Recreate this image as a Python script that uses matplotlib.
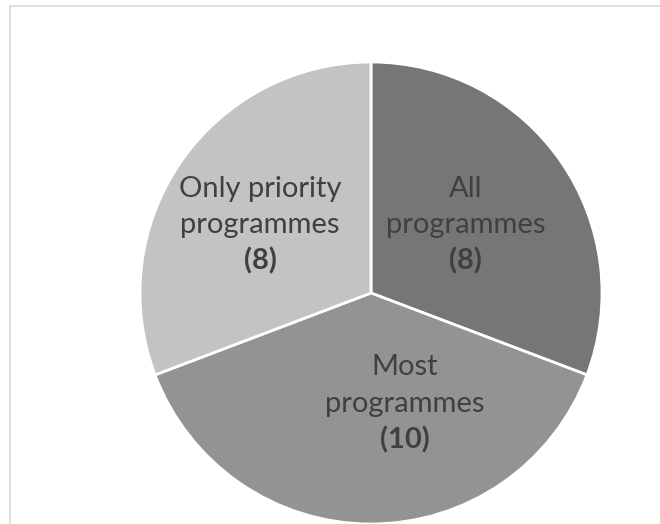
import matplotlib.pyplot as plt
from matplotlib.patches import Rectangle

# data
categories = [['All', 'programmes'], ['Most', 'programmes'], ['Only priority', 'programmes']]
counts = [8, 10, 8]
colors = ['#767676', '#939393', '#c3c3c3']

# baseline of the first label line (pie units)
label_pos = [(0.41, 0.416), (0.147, -0.355), (-0.48, 0.416)]
line_step = 0.158

plt.rcParams['font.family'] = ['Lato', 'DejaVu Sans']

fig = plt.figure(figsize=(6.6, 5.24), dpi=100)
fig.patches.append(Rectangle((10 / 660, -0.1), 1.2, 1.1 - 6 / 524, transform=fig.transFigure,
                             fill=False, edgecolor='#d9d9d9', linewidth=1.2))

ax = fig.add_axes([140 / 660, 0.0, 462 / 660, 462 / 524])
ax.pie(counts, colors=colors, startangle=90, counterclock=False, radius=1.0,
       wedgeprops={'edgecolor': 'white', 'linewidth': 2})
ax.set_xlim(-1, 1)
ax.set_ylim(-1, 1)
ax.set_aspect('auto')
ax.axis('off')

for lines, n, (x, y) in zip(categories, counts, label_pos):
    for i, line in enumerate(lines):
        ax.text(x, y - i * line_step, line, ha='center', va='baseline', fontsize=21, color='#404040')
    ax.text(x, y - 2 * line_step, f'({n})', ha='center', va='baseline', fontsize=21, color='#404040',
            fontweight='bold')

fig.savefig('out.png', dpi=100)
